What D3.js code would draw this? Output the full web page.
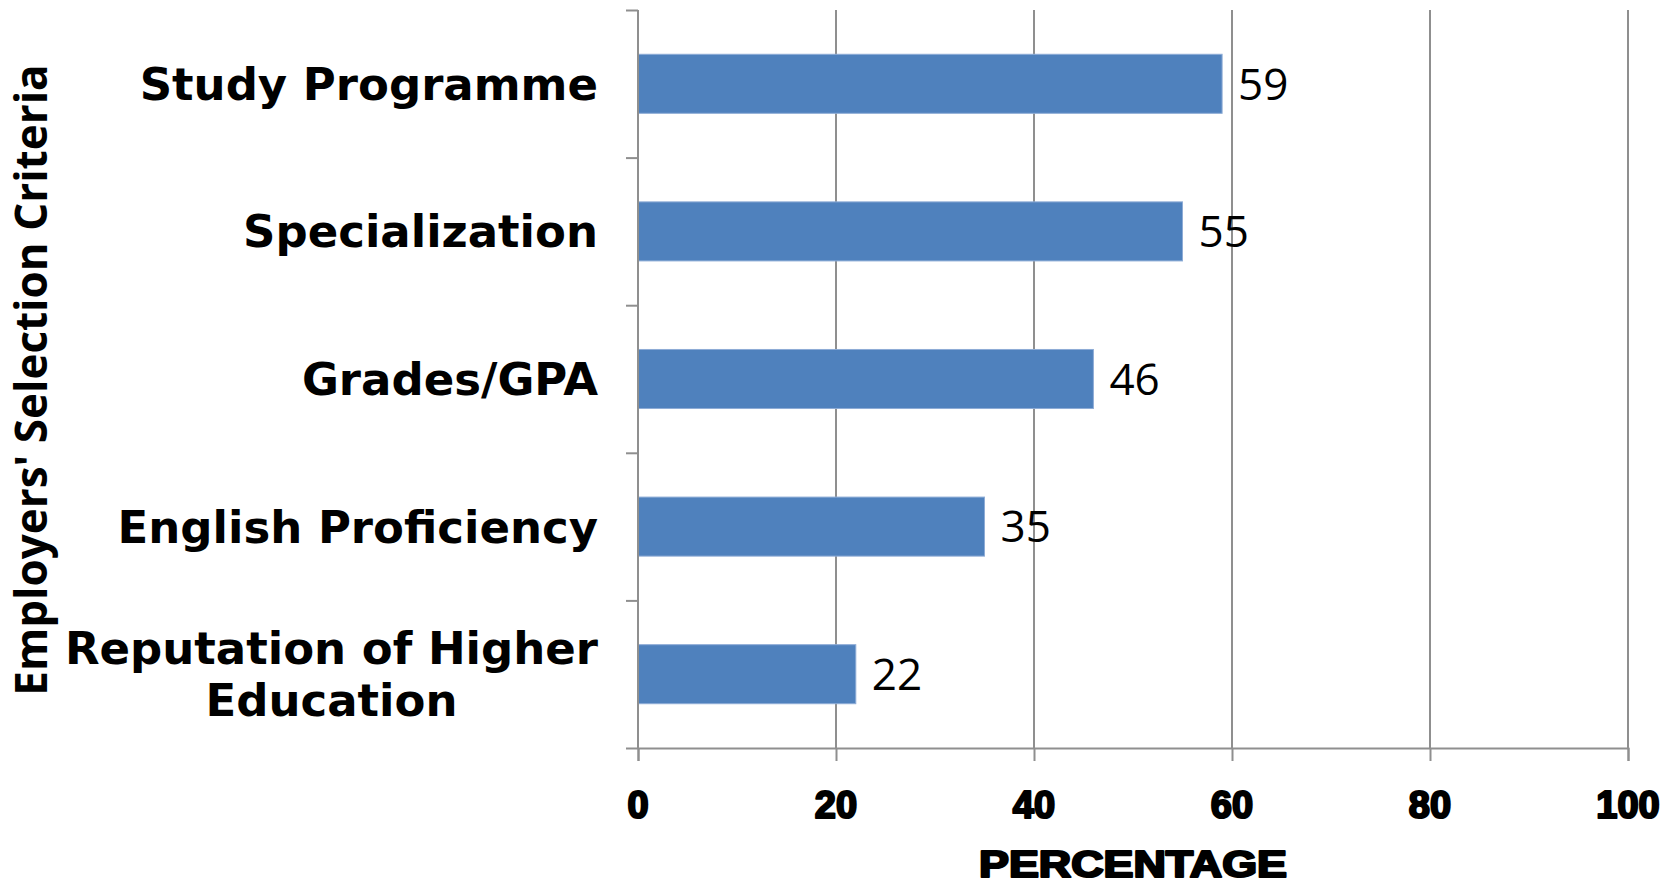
<!DOCTYPE html>
<html>
<head>
<meta charset="utf-8">
<script src="https://cdn.jsdelivr.net/npm/d3@7"></script>
<style>
  body { margin: 0; background: #fff; }
  svg { display: block; }
</style>
</head>
<body>
<script>
// data
var categories = ['Study Programme', 'Specialization', 'Grades/GPA', 'English Proficiency', 'Reputation of Higher Education'];
var labelLines = [['Study Programme'], ['Specialization'], ['Grades/GPA'], ['English Proficiency'], ['Reputation of Higher', 'Education']];
var values = [59, 55, 46, 35, 22];
var xTicks = [0, 20, 40, 60, 80, 100];

//setup size
var W = 1680, H = 887;
var plot = {left: 638, right: 1628, top: 10, bottom: 748};

var svg = d3.select('body').append('svg')
    .attr('width', W)
    .attr('height', H);

var x = d3.scaleLinear().domain([0, 100]).range([plot.left, plot.right]);
var y = d3.scaleBand().domain(categories).range([plot.top, plot.bottom]);
// band edges for the category axis ticks
var yEdge = d3.scaleLinear().domain([0, categories.length]).range([plot.top, plot.bottom]);

var gridColor = '#8f8f8f';

//vertical gridlines
svg.append('g')
    .selectAll('line')
    .data(xTicks.slice(1))
    .enter().append('line')
    .attr('x1', function(d) { return x(d); })
    .attr('x2', function(d) { return x(d); })
    .attr('y1', plot.top)
    .attr('y2', plot.bottom)
    .attr('stroke', gridColor)
    .attr('stroke-width', 2);

//bars
var bw = y.bandwidth();
svg.append('g')
    .selectAll('rect')
    .data(values)
    .enter().append('rect')
    .attr('x', x(0))
    .attr('y', function(d, i) { return y(categories[i]) + bw * 0.3; })
    .attr('width', function(d) { return x(d) - x(0); })
    .attr('height', bw * 0.4)
    .attr('fill', '#4f81bd')
    .attr('stroke', '#8eacd6')
    .attr('stroke-width', 1);

//value labels
svg.append('g')
    .selectAll('text')
    .data(values)
    .enter().append('text')
    .attr('x', function(d) { return x(d) + 16; })
    .attr('y', function(d, i) { return y(categories[i]) + bw / 2; })
    .attr('dy', '0.36em')
    .style('font-family', '"Open Sans", sans-serif')
    .style('font-size', '44px')
    .attr('fill', '#000')
    .text(function(d) { return d; });

//bottom axis
var xAxis = d3.axisBottom(x).tickValues(xTicks).tickSize(13).tickFormat('');
svg.append('g')
    .attr('transform', 'translate(0,' + plot.bottom + ')')
    .call(xAxis)
    .call(function(g) {
        g.selectAll('path, line').attr('stroke', gridColor).attr('stroke-width', 2);
    });

//left axis, ticks on band edges
var yAxis = d3.axisLeft(yEdge).tickValues(d3.range(categories.length + 1)).tickSize(12).tickFormat('');
svg.append('g')
    .attr('transform', 'translate(' + plot.left + ',0)')
    .call(yAxis)
    .call(function(g) {
        g.select('.domain').attr('d', 'M0,' + plot.top + 'V' + plot.bottom);
        g.selectAll('path, line').attr('stroke', gridColor).attr('stroke-width', 2);
    });

//x tick labels
svg.append('g')
    .selectAll('text')
    .data(xTicks)
    .enter().append('text')
    .attr('x', function(d) { return x(d); })
    .attr('y', 818)
    .attr('text-anchor', 'middle')
    .style('font-family', '"Liberation Sans", Arial, sans-serif')
    .style('font-weight', 'bold')
    .style('font-size', '38px')
    .attr('fill', '#000')
    .attr('stroke', '#000')
    .attr('stroke-width', 2.2)
    .attr('stroke-linejoin', 'round')
    .text(function(d) { return d; });

//x title
svg.append('text')
    .attr('x', (plot.left + plot.right) / 2)
    .attr('y', 877)
    .attr('text-anchor', 'middle')
    .attr('textLength', 308)
    .attr('lengthAdjust', 'spacingAndGlyphs')
    .style('font-family', '"Liberation Sans", Arial, sans-serif')
    .style('font-weight', 'bold')
    .style('font-size', '36px')
    .attr('fill', '#000')
    .attr('stroke', '#000')
    .attr('stroke-width', 2.2)
    .attr('stroke-linejoin', 'round')
    .text('PERCENTAGE');

//category labels, block right aligned, lines centred on each other
var labelRight = 598, lineGap = 52;
labelLines.forEach(function(lines, i) {
    var cy = y(categories[i]) + bw / 2;
    var g = svg.append('g');
    var texts = g.selectAll('text')
        .data(lines)
        .enter().append('text')
        .attr('y', function(d, j) { return cy + 16 + (j - (lines.length - 1) / 2) * lineGap; })
        .attr('text-anchor', 'middle')
        .style('font-family', '"DejaVu Sans", sans-serif')
        .style('font-weight', 'bold')
        .style('font-size', '45px')
        .attr('fill', '#000')
        .text(function(d) { return d; });
    var maxW = d3.max(texts.nodes(), function(n) { return n.getComputedTextLength(); });
    texts.attr('x', labelRight - maxW / 2);
});

//y title
svg.append('text')
    .attr('transform', 'translate(47,' + ((plot.top + plot.bottom) / 2 + 1) + ') rotate(-90)')
    .attr('text-anchor', 'middle')
    .style('font-family', '"Open Sans", sans-serif')
    .style('font-weight', '700')
    .style('font-size', '44px')
    .attr('fill', '#000')
    .text("Employers' Selection Criteria");
</script>
</body>
</html>
